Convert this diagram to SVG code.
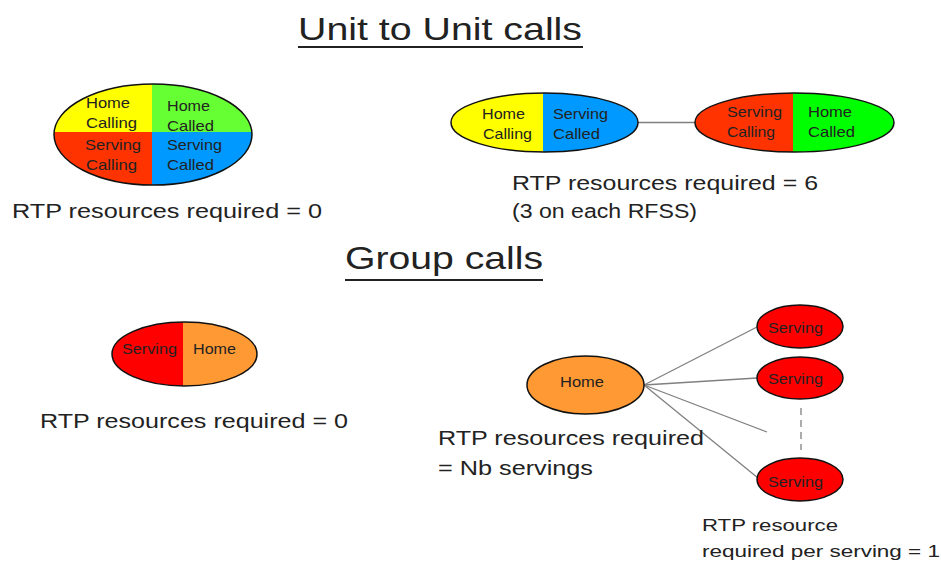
<svg xmlns="http://www.w3.org/2000/svg" width="941" height="564" viewBox="0 0 941 564">
<style>
text{font-family:"Liberation Sans",Arial,sans-serif;fill:#222}
.t{font-size:20px}
.h{font-size:32px}
.n{font-size:15px}
.s{font-size:17px}
.o{fill:none;stroke:#111;stroke-width:1.5}
.e{stroke:#808080;stroke-width:1.3;fill:none}
</style>
<defs>
<clipPath id="c1"><ellipse cx="153" cy="134.5" rx="99" ry="50.5"/></clipPath>
<clipPath id="c2"><ellipse cx="544.5" cy="122.5" rx="93.5" ry="29.5"/></clipPath>
<clipPath id="c3"><ellipse cx="794.5" cy="122.5" rx="99.5" ry="29.5"/></clipPath>
<clipPath id="c4"><ellipse cx="184.5" cy="354" rx="72.5" ry="32"/></clipPath>
</defs>
<rect width="941" height="564" fill="#fff"/>
<g id="title1">
<text class="h" x="298" y="40" textLength="284" lengthAdjust="spacingAndGlyphs">Unit to Unit calls</text>
<rect x="298" y="46" width="285" height="2" fill="#222"/>
</g>
<g id="title2">
<text class="h" x="345" y="269" textLength="198" lengthAdjust="spacingAndGlyphs">Group calls</text>
<rect x="345" y="279" width="198" height="2" fill="#222"/>
</g>
<g id="connectors">
<line class="e" x1="638" y1="122.5" x2="695" y2="122.5"/>
<line class="e" x1="644" y1="385" x2="757" y2="327"/>
<line class="e" x1="644" y1="385" x2="757" y2="378"/>
<line class="e" x1="644" y1="385" x2="767" y2="432"/>
<line class="e" x1="644" y1="385" x2="758" y2="478"/>
<line class="e" x1="801" y1="408" x2="801" y2="450" stroke-dasharray="7,5"/>
</g>
<g id="node-combined">
<g clip-path="url(#c1)">
<rect x="50" y="80" width="102" height="52" fill="#FFFF00"/>
<rect x="152" y="80" width="104" height="52" fill="#66FF33"/>
<rect x="50" y="132" width="102" height="56" fill="#FF3300"/>
<rect x="152" y="132" width="104" height="56" fill="#0099FF"/>
</g>
<ellipse class="o" cx="153" cy="134.5" rx="99" ry="50.5"/>
<text class="n" x="86" y="108" textLength="44" lengthAdjust="spacingAndGlyphs">Home</text>
<text class="n" x="86" y="128" textLength="51" lengthAdjust="spacingAndGlyphs">Calling</text>
<text class="n" x="85" y="150" textLength="56" lengthAdjust="spacingAndGlyphs">Serving</text>
<text class="n" x="86" y="170" textLength="51" lengthAdjust="spacingAndGlyphs">Calling</text>
<text class="n" x="167" y="111" textLength="43" lengthAdjust="spacingAndGlyphs">Home</text>
<text class="n" x="167" y="131" textLength="47" lengthAdjust="spacingAndGlyphs">Called</text>
<text class="n" x="167" y="150" textLength="55" lengthAdjust="spacingAndGlyphs">Serving</text>
<text class="n" x="167" y="170" textLength="47" lengthAdjust="spacingAndGlyphs">Called</text>
</g>
<g id="node-home-calling-serving-called">
<g clip-path="url(#c2)">
<rect x="450" y="90" width="93" height="66" fill="#FFFF00"/>
<rect x="543" y="90" width="97" height="66" fill="#0099FF"/>
</g>
<ellipse class="o" cx="544.5" cy="122.5" rx="93.5" ry="29.5"/>
<text class="n" x="482" y="119" textLength="43" lengthAdjust="spacingAndGlyphs">Home</text>
<text class="n" x="483" y="139" textLength="49" lengthAdjust="spacingAndGlyphs">Calling</text>
<text class="n" x="553" y="119" textLength="55" lengthAdjust="spacingAndGlyphs">Serving</text>
<text class="n" x="553" y="139" textLength="47" lengthAdjust="spacingAndGlyphs">Called</text>
</g>
<g id="node-serving-calling-home-called">
<g clip-path="url(#c3)">
<rect x="693" y="90" width="100" height="66" fill="#FF3300"/>
<rect x="793" y="90" width="103" height="66" fill="#00FF00"/>
</g>
<ellipse class="o" cx="794.5" cy="122.5" rx="99.5" ry="29.5"/>
<text class="n" x="727" y="117" textLength="55" lengthAdjust="spacingAndGlyphs">Serving</text>
<text class="n" x="727" y="137" textLength="48" lengthAdjust="spacingAndGlyphs">Calling</text>
<text class="n" x="808" y="117" textLength="44" lengthAdjust="spacingAndGlyphs">Home</text>
<text class="n" x="808" y="137" textLength="47" lengthAdjust="spacingAndGlyphs">Called</text>
</g>
<g id="node-serving-home">
<g clip-path="url(#c4)">
<rect x="110" y="320" width="73" height="70" fill="#FF0000"/>
<rect x="183" y="320" width="76" height="70" fill="#FF9933"/>
</g>
<ellipse class="o" cx="184.5" cy="354" rx="72.5" ry="32"/>
<text class="n" x="122" y="354" textLength="55" lengthAdjust="spacingAndGlyphs">Serving</text>
<text class="n" x="193" y="354" textLength="43" lengthAdjust="spacingAndGlyphs">Home</text>
</g>
<g id="node-home">
<ellipse cx="585.5" cy="385" rx="58.5" ry="29" fill="#FF9933" stroke="#111" stroke-width="1.5"/>
<text class="n" x="560" y="387" textLength="44" lengthAdjust="spacingAndGlyphs">Home</text>
</g>
<g id="node-serving1">
<ellipse cx="800" cy="326.5" rx="43" ry="21.5" fill="#FF0000" stroke="#111" stroke-width="1.5"/>
<text class="n" x="768" y="333" textLength="55" lengthAdjust="spacingAndGlyphs">Serving</text>
</g>
<g id="node-serving2">
<ellipse cx="800" cy="378" rx="43" ry="21" fill="#FF0000" stroke="#111" stroke-width="1.5"/>
<text class="n" x="768" y="384" textLength="55" lengthAdjust="spacingAndGlyphs">Serving</text>
</g>
<g id="node-serving3">
<ellipse cx="800" cy="479.5" rx="43" ry="21.5" fill="#FF0000" stroke="#111" stroke-width="1.5"/>
<text class="n" x="768" y="487" textLength="55" lengthAdjust="spacingAndGlyphs">Serving</text>
</g>
<g id="labels">
<text class="t" x="12" y="218" textLength="310" lengthAdjust="spacingAndGlyphs">RTP resources required = 0</text>
<text class="t" x="512" y="190" textLength="306" lengthAdjust="spacingAndGlyphs">RTP resources required = 6</text>
<text class="t" x="512" y="218" textLength="185" lengthAdjust="spacingAndGlyphs">(3 on each RFSS)</text>
<text class="t" x="40" y="428" textLength="308" lengthAdjust="spacingAndGlyphs">RTP resources required = 0</text>
<text class="t" x="438" y="445" textLength="266" lengthAdjust="spacingAndGlyphs">RTP resources required</text>
<text class="t" x="438" y="475" textLength="155" lengthAdjust="spacingAndGlyphs">= Nb servings</text>
<text class="s" x="702" y="531" textLength="136" lengthAdjust="spacingAndGlyphs">RTP resource</text>
<text class="s" x="702" y="557" textLength="238" lengthAdjust="spacingAndGlyphs">required per serving = 1</text>
</g>
</svg>
